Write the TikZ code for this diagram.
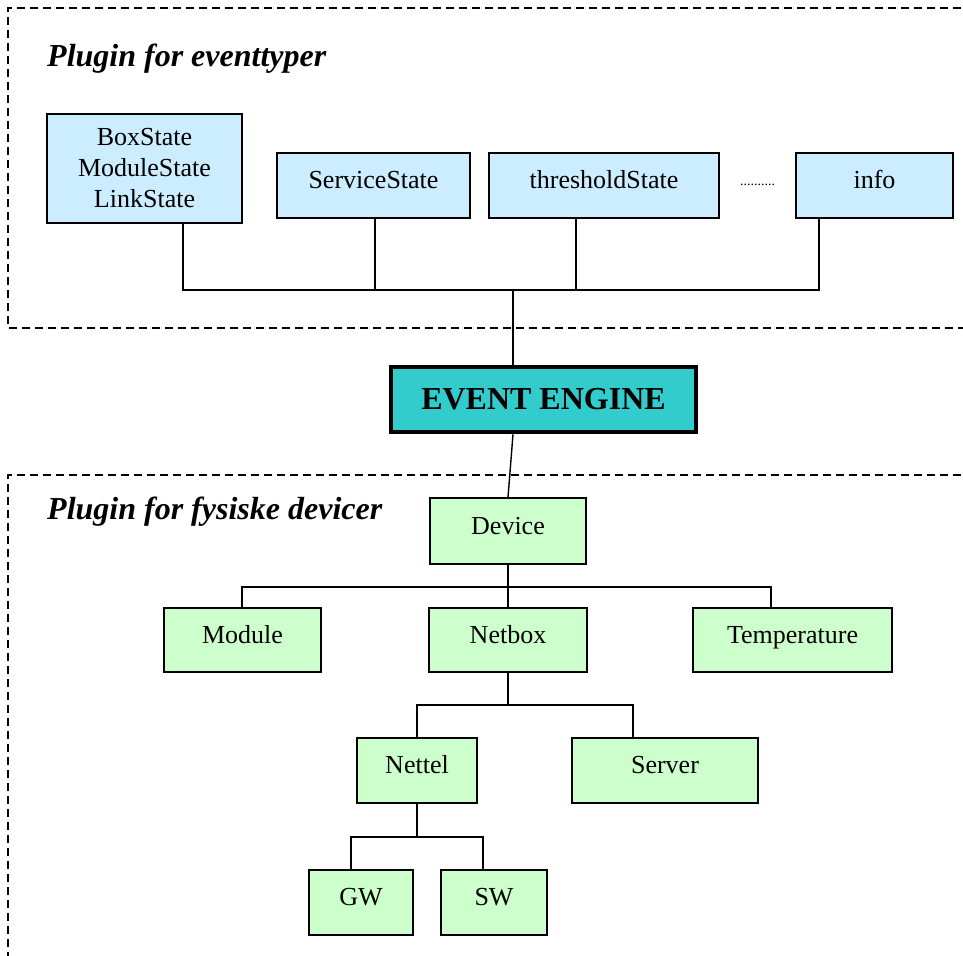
\documentclass[tikz,border=0pt]{standalone}
\usepackage{fontspec}
\setmainfont{Liberation Serif}
\usetikzlibrary{positioning,calc}
\definecolor{plugin blue}{HTML}{CCECFF}
\definecolor{plugin green}{HTML}{CCFFCC}
\definecolor{engine teal}{HTML}{33CCCC}
\tikzset{
    region/.style={dash pattern=on 8pt off 5pt,line width=1.4pt},
    region title/.style={anchor=base west,inner sep=0pt,font=\fontsize{32}{36}\selectfont\bfseries\itshape},
    box/.style={draw,line width=1.4pt,rectangle,inner sep=0pt,align=center},
    type box/.style={box,fill=plugin blue},
    device box/.style={box,fill=plugin green,text height=18pt,text depth=12pt},
    engine box/.style={box,fill=engine teal,line width=4.5pt,font=\fontsize{32}{36}\selectfont\bfseries},
    link/.style={line width=1.4pt},
}
\tikzstyle{every node}=[font=\fontsize{26}{31}\selectfont]
\begin{document}
\begin{tikzpicture}[x=1pt,y=-1pt]
        \useasboundingbox (0,0) rectangle (963,955);
        % the two plugin regions
        \draw[region] (1000,8) -- (8,8) -- (8,328) -- (1000,328);
        \draw[region] (1000,475) -- (8,475) -- (8,1000);
        \node[region title] (types title) at (47,67) {Plugin for eventtyper};
        \node[region title] (device title) at (47,519) {Plugin for fysiske devicer};

        % event types
        \node[type box,minimum width=195pt,minimum height=109pt] (states) at (144.5,168.5)
            {BoxState\\ModuleState\\LinkState};
        \node[type box,minimum width=193pt,minimum height=65pt,text height=18pt,text depth=12pt] (service) at (373.5,185.5) {ServiceState};
        \node[type box,minimum width=230pt,minimum height=65pt,text height=18pt,text depth=12pt] (threshold) at (604,185.5) {thresholdState};
        \node[type box,minimum width=157pt,minimum height=65pt,text height=18pt,text depth=12pt] (info) at (874.5,185.5) {info};
        \node[font=\fontsize{14}{16}\selectfont] (more types) at (757.5,185) {..........};

        \node[engine box,minimum width=305pt,minimum height=65pt] (engine) at (543.5,399.5) {EVENT ENGINE};

        % physical devices
        \node[device box,minimum width=156pt,minimum height=66pt] (device) at (508,531) {Device};
        \node[device box,minimum width=157pt,minimum height=64pt] (module) at (242.5,640) {Module};
        \node[device box,minimum width=158pt,minimum height=64pt] (netbox) at (508,640) {Netbox};
        \node[device box,minimum width=199pt,minimum height=64pt] (temperature) at (792.5,640) {Temperature};
        \node[device box,minimum width=120pt,minimum height=65pt] (nettel) at (417,770.5) {Nettel};
        \node[device box,minimum width=186pt,minimum height=65pt] (server) at (665,770.5) {Server};
        \node[device box,minimum width=104pt,minimum height=65pt] (gw) at (361,902.5) {GW};
        \node[device box,minimum width=106pt,minimum height=65pt] (sw) at (494,902.5) {SW};

        \coordinate (type bus) at (513,290);
        \coordinate (device bus) at (508,587);
        \coordinate (netbox bus) at (508,705);
        \coordinate (nettel bus) at (417,837);

        \draw[link] ([xshift=38.5pt]states.south) |- (type bus);
        \draw[link] ([xshift=1.5pt]service.south) |- (type bus);
        \draw[link] ([xshift=-28pt]threshold.south) |- (type bus);
        \draw[link] ([xshift=-55.5pt]info.south) |- (type bus);
        \draw[link] (type bus) -- (engine.north -| type bus);
        \draw[link] ([xshift=-30.5pt]engine.south) -- (device.north);

        \draw[link] (device.south) -- (netbox.north);
        \draw[link] ([xshift=-0.5pt]module.north) |- (device bus) -| ([xshift=-21.5pt]temperature.north);
        \draw[link] (netbox.south) -- (netbox bus);
        \draw[link] (nettel.north) |- (netbox bus) -| ([xshift=-32pt]server.north);
        \draw[link] (nettel.south) -- (nettel bus);
        \draw[link] ([xshift=-10pt]gw.north) |- (nettel bus) -| ([xshift=-11pt]sw.north);
\end{tikzpicture}
\end{document}
